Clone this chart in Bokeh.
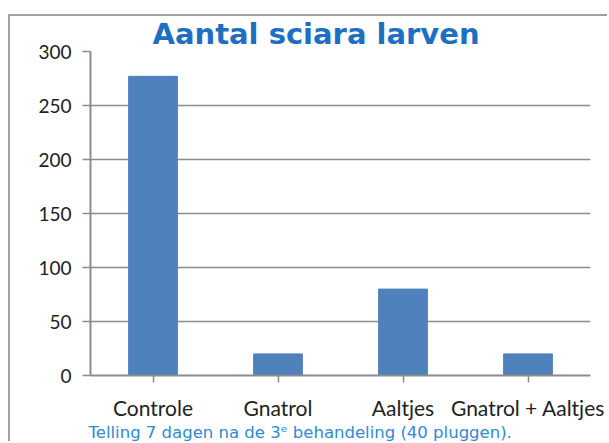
from bokeh.plotting import figure
from bokeh.models import FixedTicker, Title
from bokeh.embed import file_html
from bokeh.resources import INLINE

categories = ["Controle", "Gnatrol", "Aaltjes", "Gnatrol + Aaltjes"]
counts = [277, 20, 80, 20]
y_ticks = [0, 50, 100, 150, 200, 250, 300]
title_text = "Aantal sciara larven"
caption_text = "Telling 7 dagen na de 3\u1d49 behandeling (40 pluggen)."

p = figure(x_range=categories, y_range=(0, 300), width=599, height=427,
           output_backend="svg", toolbar_location=None,
           min_border_left=80, min_border_right=19, min_border_top=35,
           min_border_bottom=65)
p.margin = (14, 0, 0, 8)
p.styles = {"border-left": "2px solid #a0a0a0", "border-top": "2px solid #a0a0a0"}
p.outline_line_color = None
p.x_range.range_padding = 0

p.vbar(x=categories, top=counts, width=0.39, color="#4f81bd")

p.xgrid.grid_line_color = None
p.ygrid.grid_line_color = "#8c8c8c"
p.ygrid.grid_line_width = 1.5
p.yaxis.ticker = FixedTicker(ticks=y_ticks)
p.yaxis.minor_tick_line_color = None
p.yaxis.axis_line_color = "#8c8c8c"
p.yaxis.axis_line_width = 2
p.yaxis.major_tick_line_color = "#8c8c8c"
p.yaxis.major_tick_line_width = 1.5
p.yaxis.major_tick_out = 8
p.yaxis.major_tick_in = 0
p.yaxis.major_label_text_font = "Lato"
p.yaxis.major_label_text_font_size = "19px"
p.yaxis.major_label_text_color = "#222222"
p.yaxis.major_label_standoff = 11

p.xaxis.axis_line_color = "#8c8c8c"
p.xaxis.axis_line_width = 2
p.xaxis.major_tick_line_color = "#8c8c8c"
p.xaxis.major_tick_line_width = 1.5
p.xaxis.major_tick_out = 7
p.xaxis.major_tick_in = 0
p.xaxis.major_label_text_font = "Lato"
p.xaxis.major_label_text_font_size = "21px"
p.xaxis.major_label_text_color = "#222222"
p.xaxis.major_label_standoff = 12

p.title.text = title_text
p.title.align = "left"
p.title.offset = 62
p.title.text_font = "DejaVu Sans"
p.title.text_font_style = "bold"
p.title.text_font_size = "29px"
p.title.text_color = "#1e6fc2"
p.title.vertical_align = "top"
p.title.standoff = -2

caption = Title(text=caption_text, align="left", offset=-2,
                text_font="DejaVu Sans", text_font_style="normal", text_font_size="16.5px",
                text_color="#2f8ad2", vertical_align="top", standoff=0)
p.add_layout(caption, "below")

open("out.html", "w").write(file_html(p, INLINE))
